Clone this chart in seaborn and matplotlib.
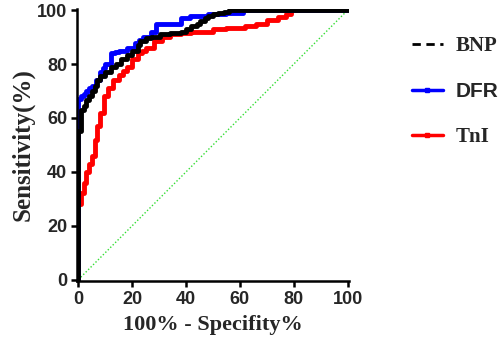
import seaborn as sns
import matplotlib.pyplot as plt
from matplotlib.lines import Line2D

# ROC curves (x = 100% - specificity, y = sensitivity)
bnp_fpr = [0, 0, 1, 2, 3, 4, 5, 6, 7, 8, 10, 12, 14, 16, 18, 20, 22, 23, 25, 27, 30.5, 34,
           38, 40, 42, 44, 45, 47, 48, 50, 52, 54, 56, 100]
bnp_tpr = [0, 55, 63, 64.5, 66.5, 68, 70, 72, 74, 75.5, 77, 79, 80, 82, 83.5, 85, 87, 88.6, 89.5,
           90, 91, 91.5, 92, 93, 94, 95, 96, 97, 98, 98.5, 99, 99.5, 100, 100]

dfr_fpr = [0, 0, 1, 2, 3, 4, 5, 6.6, 8, 9, 10, 12, 13.5, 15, 18, 21, 22.5, 24, 27, 29, 32, 35,
           38, 41.5, 45, 48, 55, 61, 100]
dfr_tpr = [0, 67, 68, 69, 70, 71, 72, 74, 77, 78.5, 80, 84, 84.5, 85, 86, 88, 89, 90, 92, 95, 95,
           95, 97, 98, 98, 98.5, 99, 100, 100]

tni_fpr = [0, 0, 1, 2, 3, 4, 5, 6, 7, 8, 9.5, 11, 13, 15, 16.5, 18, 20, 22, 23.5, 25, 28, 31,
           34, 38, 42, 45, 50, 55, 62, 66, 70, 74, 77, 79, 100]
tni_tpr = [0, 28, 32, 36, 40, 43, 46, 52, 57, 62, 68, 71, 74, 76, 77.5, 79, 82, 84, 85, 86, 88.6,
           90, 91, 91.5, 92, 92, 93, 93.5, 94, 95, 96.5, 97.5, 98.5, 100, 100]

ref_line = [0, 100]

sns.set_theme(style="ticks")
plt.rcParams["font.family"] = ["Liberation Sans", "DejaVu Sans"]

fig = plt.figure(figsize=(5, 3.53), dpi=100)
ax = fig.add_axes([0.154, 0.204, 0.544, 0.771])

sns.lineplot(x=ref_line, y=ref_line, ax=ax, color="#33dd33", linestyle=(0, (1, 1.5)), linewidth=1)
sns.lineplot(x=tni_fpr, y=tni_tpr, ax=ax, sort=False, estimator=None, drawstyle="steps-post",
             color="#ff0000", linewidth=3.5)
sns.lineplot(x=dfr_fpr, y=dfr_tpr, ax=ax, sort=False, estimator=None, drawstyle="steps-post",
             color="#0000ff", linewidth=3.5)
sns.lineplot(x=bnp_fpr, y=bnp_tpr, ax=ax, sort=False, estimator=None, drawstyle="steps-post",
             color="black", linewidth=3.5)

ax.set_xticks(range(0, 101, 20))
ax.set_yticks(range(0, 101, 20))
sns.despine(ax=ax)
for s in ("left", "bottom"):
    ax.spines[s].set_linewidth(1.8)
    ax.spines[s].set_color("black")
ax.tick_params(width=1.8, length=4, color="black", labelsize=13, pad=3)
for lab in ax.get_xticklabels() + ax.get_yticklabels():
    lab.set_fontweight("bold")
ax.set_xlim(-0.5, 100.5)
ax.set_ylim(-0.5, 100.5)

serif = ["Liberation Serif", "DejaVu Serif"]
ax.set_xlabel("100% - Specifity%", fontsize=16, fontweight="bold", family=serif, labelpad=5)
ax.set_ylabel("Sensitivity(%)", fontsize=18, fontweight="bold", family=serif, labelpad=2)

handles = [
    Line2D([], [], color="black", linestyle=(0, (3, 2)), linewidth=2),
    Line2D([], [], color="#0000ff", linewidth=2.5, marker="s", markersize=3),
    Line2D([], [], color="#ff0000", linewidth=2.5, marker="s", markersize=3),
]
leg = fig.legend(handles, ["BNP", "DFR", "TnI"], loc="upper left", bbox_to_anchor=(0.79, 0.945),
                 frameon=False, fontsize=15, handlelength=1.5, labelspacing=1.25, handletextpad=0.6,
                 borderpad=0.3)
for t, fam in zip(leg.get_texts(), [serif, ["Liberation Sans"], serif]):
    t.set_family(fam)
    t.set_fontweight("bold")

fig.savefig("out.png", dpi=100)
